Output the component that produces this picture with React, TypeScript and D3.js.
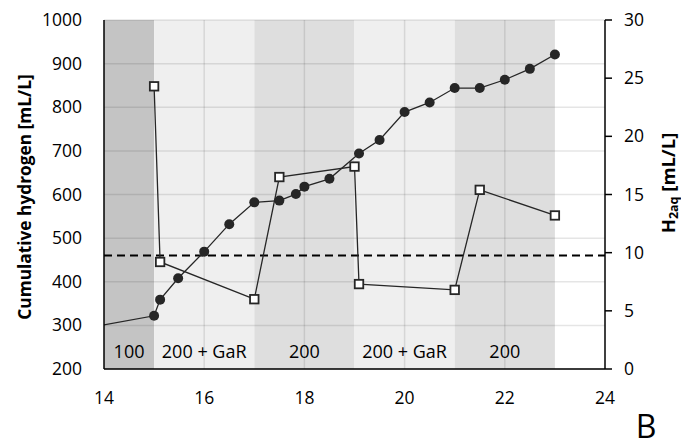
import React from "react";
import * as d3 from "d3";

const bandStart = [14, 15, 17, 19, 21];
const bandEnd = [15, 17, 19, 21, 23];
const bandLabels = ["100", "200 + GaR", "200", "200 + GaR", "200"];

const cumDays = [13, 15, 15.12, 15.48, 16, 16.5, 17, 17.5, 17.83, 18, 18.5, 19.09, 19.5, 20, 20.5, 21, 21.5, 22, 22.5, 23];
const cumH2 = [280, 322, 359, 408, 469, 532, 582, 586, 601, 618, 636, 694, 725, 789, 811, 844, 844, 863, 888, 921];

const aqDays = [15, 15.12, 17, 17.5, 19, 19.09, 21, 21.5, 23];
const aqH2 = [24.3, 9.2, 6.0, 16.5, 17.4, 7.3, 6.8, 15.4, 13.2];

const threshold = 9.75;

const xTicks = [14, 16, 18, 20, 22, 24];
const yLeftTicks = [200, 300, 400, 500, 600, 700, 800, 900, 1000];
const yRightTicks = [0, 5, 10, 15, 20, 25, 30];

const W = 681;
const H = 447;
const M = { left: 104, right: 605, top: 20, bottom: 369 };
const bandFills = ["#c4c4c4", "#efefef", "#dedede", "#efefef", "#dedede"];
const FONT = "'Open Sans', sans-serif";
const INK = "#262626";

export default function App() {
  const x = d3.scaleLinear().domain([14, 24]).range([M.left, M.right]);
  const yL = d3.scaleLinear().domain([200, 1000]).range([M.bottom, M.top]);
  const yR = d3.scaleLinear().domain([0, 30]).range([M.bottom, M.top]);

  const cumPts = cumDays.map((d, i) => [d, cumH2[i]] as [number, number]);
  const aqPts = aqDays.map((d, i) => [d, aqH2[i]] as [number, number]);
  const cumLine = d3.line<[number, number]>().x((d) => x(d[0])).y((d) => yL(d[1]));
  const aqLine = d3.line<[number, number]>().x((d) => x(d[0])).y((d) => yR(d[1]));

  const sq = 8.5;

  return (
    <svg width={W} height={H} style={{ position: "absolute", left: 0, top: 0 }} fontFamily={FONT}>
      <defs>
        <clipPath id="plot">
          <rect x={M.left} y={M.top - 10} width={M.right - M.left} height={M.bottom - M.top + 10} />
        </clipPath>
      </defs>
      {bandStart.map((s, i) => (
        <rect key={"b" + i} x={x(s)} y={M.top} width={x(bandEnd[i]) - x(s)} height={M.bottom - M.top} fill={bandFills[i]} />
      ))}
      {yLeftTicks.map((t) => (
        <line key={"gy" + t} x1={M.left} x2={M.right} y1={yL(t)} y2={yL(t)} stroke="rgba(0,0,0,0.1)" strokeWidth={1.5} />
      ))}
      {xTicks.slice(1, -1).map((t) => (
        <line key={"gx" + t} x1={x(t)} x2={x(t)} y1={M.top} y2={M.bottom} stroke="rgba(0,0,0,0.1)" strokeWidth={1.5} />
      ))}
      {bandStart.map((s, i) => (
        <text key={"bl" + i} x={x((s + bandEnd[i]) / 2)} y={358} textAnchor="middle" fontSize={18} fill="#000">
          {bandLabels[i]}
        </text>
      ))}
      <line x1={M.left} x2={M.right} y1={yR(threshold)} y2={yR(threshold)} stroke="#000" strokeWidth={2} strokeDasharray="8,5" />
      <g clipPath="url(#plot)">
        <path d={cumLine(cumPts) || ""} fill="none" stroke={INK} strokeWidth={1.3} />
        {cumPts.map((p, i) => (
          <circle key={"c" + i} cx={x(p[0])} cy={yL(p[1])} r={5} fill={INK} />
        ))}
        <path d={aqLine(aqPts) || ""} fill="none" stroke={INK} strokeWidth={1.3} />
        {aqPts.map((p, i) => (
          <rect key={"s" + i} x={x(p[0]) - sq / 2} y={yR(p[1]) - sq / 2} width={sq} height={sq} fill="#fff" stroke={INK} strokeWidth={1.8} />
        ))}
      </g>
      <line x1={M.left} x2={M.left} y1={M.top} y2={M.bottom} stroke="#000" strokeWidth={1.5} />
      <line x1={M.left} x2={M.right} y1={M.bottom} y2={M.bottom} stroke="#000" strokeWidth={1.5} />
      <line x1={M.right} x2={M.right} y1={M.top} y2={M.bottom} stroke="#000" strokeWidth={1.5} />
      {yRightTicks.map((t) => (
        <line key={"rt" + t} x1={M.right} x2={M.right + 7} y1={yR(t)} y2={yR(t)} stroke="#000" strokeWidth={1.5} />
      ))}
      {yLeftTicks.map((t) => (
        <text key={"yl" + t} x={82} y={yL(t) + 6} textAnchor="end" fontSize={17.5} fill="#000">
          {t}
        </text>
      ))}
      {yRightTicks.map((t) => (
        <text key={"yr" + t} x={624} y={yR(t) + 6} textAnchor="start" fontSize={17.5} fill="#000">
          {t}
        </text>
      ))}
      {xTicks.map((t) => (
        <text key={"xt" + t} x={x(t)} y={404} textAnchor="middle" fontSize={17.5} fill="#000">
          {t}
        </text>
      ))}
      <text transform={`translate(31,197) rotate(-90)`} textAnchor="middle" fontSize={17.3} fontWeight="bold" fill="#000">
        Cumulative hydrogen [mL/L]
      </text>
      <text transform={`translate(675,183) rotate(-90)`} textAnchor="middle" fontSize={18.5} fontWeight="bold" fill="#000">
        H<tspan fontSize={12.5} dy={3}>2aq</tspan>
        <tspan dy={-3}> [mL/L]</tspan>
      </text>
      <text x={646} y={438} textAnchor="middle" fontSize={32} fill="#000">
        B
      </text>
    </svg>
  );
}
